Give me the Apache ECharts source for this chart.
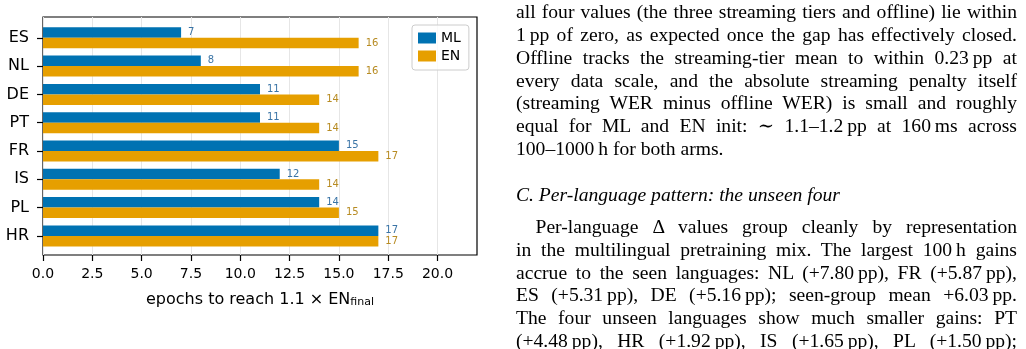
<!DOCTYPE html>
<html>
<head>
<meta charset="utf-8">
<script src="https://cdn.jsdelivr.net/npm/echarts@6/dist/echarts.min.js"></script>
<style>
  html, body { margin: 0; padding: 0; background: #fff; }
  body { width: 1026px; height: 349px; overflow: hidden; position: relative; }
  #canvas { position: absolute; left: 0; top: 0; width: 1026px; height: 349px; }
  #txt {
    position: absolute; left: 516px; top: 1.2px; width: 501px;
    font-family: "Liberation Serif", "DejaVu Serif", serif;
    font-size: 19.6px; line-height: 22.8px; color: #000;
    font-variant-ligatures: common-ligatures;
  }
  #txt div { height: 22.8px; }
  #txt .j { text-align: justify; text-align-last: justify; }
  #txt .ind { text-indent: 19.5px; }
  #txt .h { font-style: italic; margin-top: 23.5px; }
  #txt .p { margin-top: 9px; }
</style>
</head>
<body>
<div id="canvas"></div>
<div id="txt">
  <div class="j">all four values (the three streaming tiers and offline) lie within</div>
  <div class="j">1&#8201;pp of zero, as expected once the gap has effectively closed.</div>
  <div class="j">Offline tracks the streaming-tier mean to within 0.23&#8201;pp at</div>
  <div class="j">every data scale, and the absolute streaming penalty itself</div>
  <div class="j">(streaming WER minus offline WER) is small and roughly</div>
  <div class="j">equal for ML and EN init: &#8764; 1.1&#8211;1.2&#8201;pp at 160&#8201;ms across</div>
  <div>100&#8211;1000&#8201;h for both arms.</div>
  <div class="h">C. Per-language pattern: the unseen four</div>
  <div class="j ind p">Per-language &Delta; values group cleanly by representation</div>
  <div class="j">in the multilingual pretraining mix. The largest 100&#8201;h gains</div>
  <div class="j">accrue to the seen languages: NL (+7.80&#8201;pp), FR (+5.87&#8201;pp),</div>
  <div class="j">ES (+5.31&#8201;pp), DE (+5.16&#8201;pp); seen-group mean +6.03&#8201;pp.</div>
  <div class="j">The four unseen languages show much smaller gains: PT</div>
  <div class="j">(+4.48&#8201;pp), HR (+1.92&#8201;pp), IS (+1.65&#8201;pp), PL (+1.50&#8201;pp);</div>
</div>
<script>
var languages = ['ES', 'NL', 'DE', 'PT', 'FR', 'IS', 'PL', 'HR'];
var mlEpochs = [7, 8, 11, 11, 15, 12, 14, 17];
var enEpochs = [16, 16, 14, 14, 17, 14, 15, 17];
var xTicks = [0, 2.5, 5, 7.5, 10, 12.5, 15, 17.5, 20];

var myChart = echarts.init(document.getElementById('canvas'));

var option = {
    animation: false,
    textStyle: { fontFamily: 'DejaVu Sans' },
    grid: [
        // frame + gridlines
        { left: 43, top: 17, width: 434, height: 238, show: true,
          borderColor: '#000', borderWidth: 1.2, backgroundColor: 'transparent' },
        // bars
        { left: 43, top: 23.65, width: 434, height: 226.4 }
    ],
    legend: {
        orient: 'vertical',
        left: 412, top: 25,
        icon: 'rect',
        itemWidth: 18, itemHeight: 11, itemGap: 4,
        padding: [6, 8, 7, 6],
        borderColor: '#cccccc', borderWidth: 1, borderRadius: 3,
        backgroundColor: 'rgba(255,255,255,0.8)',
        textStyle: { fontSize: 14, color: '#000' },
        data: ['ML', 'EN']
    },
    xAxis: [
        {
            gridIndex: 0, type: 'value', min: 0, max: 22, interval: 2.5,
            axisLine: { show: false },
            axisTick: { show: true, length: 6, customValues: xTicks,
                        lineStyle: { color: '#000', width: 1.2 } },
            axisLabel: { customValues: xTicks, fontSize: 14, color: '#000', margin: 12,
                         formatter: function (v) { return xTicks.indexOf(v) < 0 ? '' : v.toFixed(1); } },
            splitLine: { show: true, lineStyle: { color: '#e6e6e6', width: 1 } },
            name: '{a|epochs to reach 1.1 × EN}{s|final}',
            nameLocation: 'middle',
            nameGap: 33,
            nameTextStyle: {
                color: '#000',
                rich: {
                    a: { fontSize: 16, color: '#000', lineHeight: 20, verticalAlign: 'bottom' },
                    s: { fontSize: 11, color: '#000', lineHeight: 13, verticalAlign: 'bottom' }
                }
            }
        },
        { gridIndex: 1, type: 'value', min: 0, max: 22, show: false }
    ],
    yAxis: [
        { gridIndex: 0, type: 'value', min: 0, max: 1, show: false },
        {
            gridIndex: 1, type: 'category', data: languages, inverse: true,
            axisLine: { show: false },
            axisTick: { show: true, alignWithLabel: true, length: 6,
                        lineStyle: { color: '#000', width: 1.2 } },
            axisLabel: { fontSize: 16, color: '#000', margin: 14 },
            splitLine: { show: false }
        }
    ],
    series: [
        {
            name: 'ML', type: 'bar', xAxisIndex: 1, yAxisIndex: 1,
            data: mlEpochs, barWidth: 10.5, barGap: '0%',
            itemStyle: { color: '#0072B2' },
            label: { show: true, position: 'right', distance: 7, fontSize: 10, color: '#3a74a6' }
        },
        {
            name: 'EN', type: 'bar', xAxisIndex: 1, yAxisIndex: 1,
            data: enEpochs, barWidth: 10.5, barGap: '0%',
            itemStyle: { color: '#E69F00' },
            label: { show: true, position: 'right', distance: 7, fontSize: 10, color: '#b78b22' }
        }
    ]
};

myChart.setOption(option);
window.onresize = myChart.resize;
</script>
</body>
</html>
